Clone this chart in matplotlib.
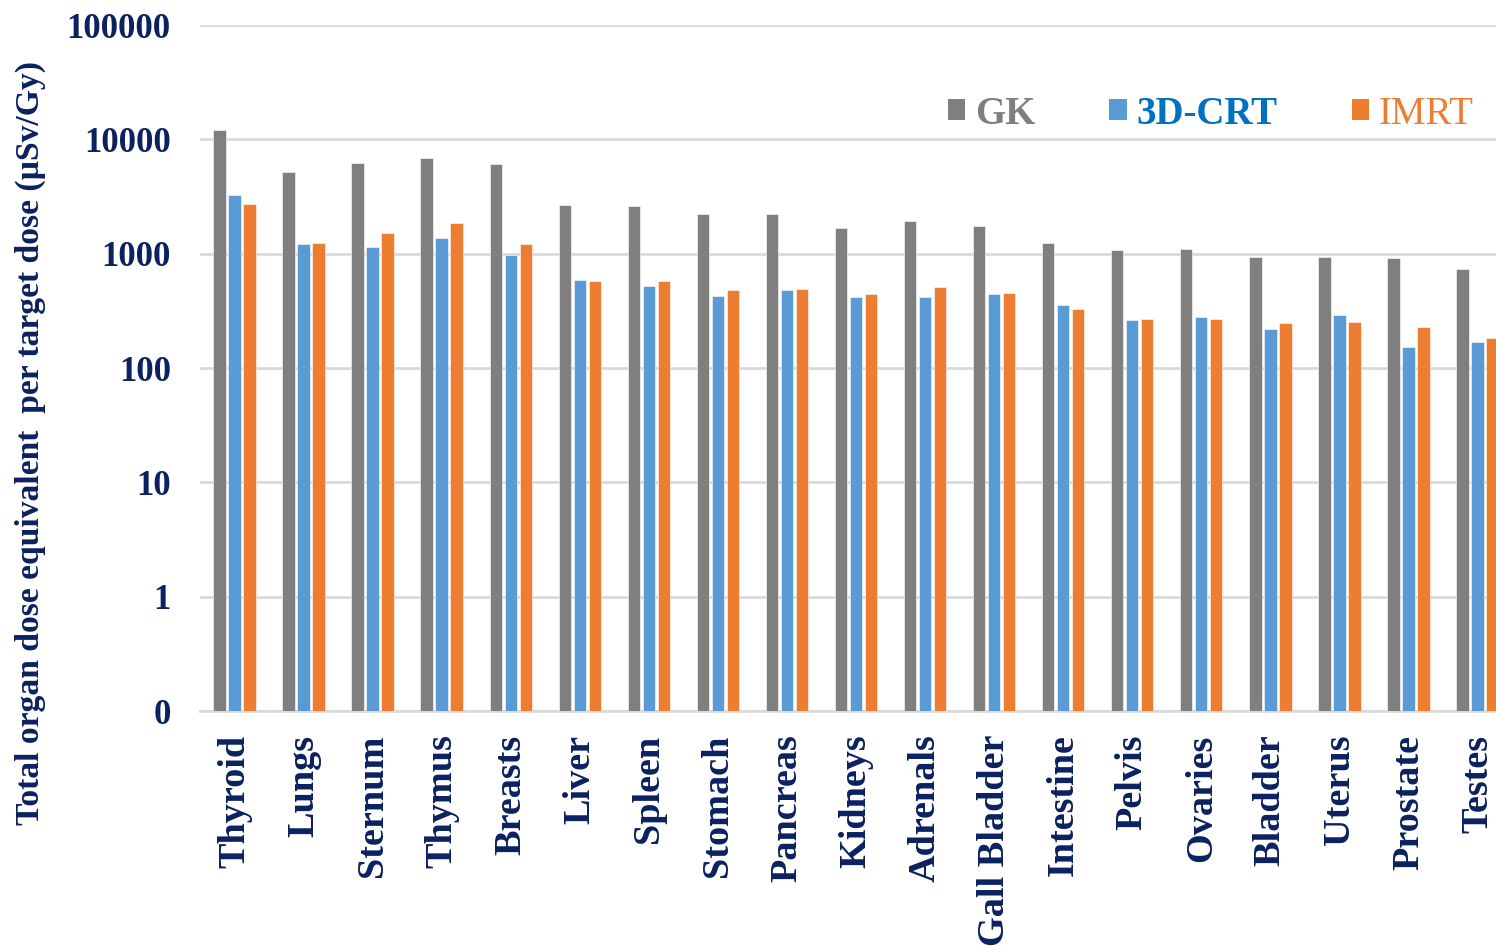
import numpy as np
import matplotlib
matplotlib.use("Agg")
import matplotlib.pyplot as plt
from matplotlib.patches import Patch
from matplotlib.ticker import FixedLocator, NullLocator

organs = ["Thyroid", "Lungs", "Sternum", "Thymus", "Breasts", "Liver", "Spleen",
          "Stomach", "Pancreas", "Kidneys", "Adrenals", "Gall Bladder", "Intestine",
          "Pelvis", "Ovaries", "Bladder", "Uterus", "Prostate", "Testes"]
gk = [12000, 5230, 6170, 6840, 6070, 2690, 2600, 2244, 2244, 1680, 1936, 1750,
      1236, 1087, 1109, 937, 937, 918, 736]
crt3d = [3250, 1210, 1153, 1365, 982, 586, 520, 430, 485, 419, 419, 448,
         356, 262, 280, 221, 290, 153, 169]
imrt = [2710, 1232, 1510, 1860, 1210, 574, 574, 485, 495, 448, 509, 454,
        329, 267, 267, 247, 251, 228, 183]
series_names = ["GK", "3D-CRT", "IMRT"]
ytick_vals = [0.1, 1, 10, 100, 1000, 10000, 100000]
ytick_labels = ["0", "1", "10", "100", "1000", "10000", "100000"]

colors = ["#7F7F7F", "#5B9BD5", "#ED7D31"]
text_colors = ["#7F7F7F", "#0070C0", "#ED7D31"]
navy = "#0B2160"
serif = ["Liberation Serif", "DejaVu Serif"]

W, H = 1496, 946
fig = plt.figure(figsize=(W / 100, H / 100), dpi=100)
left, right, top, bottom = 200, 1512, 25, 711
ax = fig.add_axes([left / W, (H - bottom) / H, (right - left) / W, (bottom - top) / H])

ax.set_yscale("log")
x = np.arange(len(organs))
bw = 0.18
step = 0.217
for i, (vals, c) in enumerate(zip([gk, crt3d, imrt], colors)):
    ax.bar(x + (i - 1) * step, vals, width=bw, color=c, edgecolor="white",
           linewidth=0.4, zorder=3, label=series_names[i])

ax.set_ylim(0.1, 100000)
ax.set_xlim(-0.5, len(organs) - 0.5)
ax.yaxis.set_major_locator(FixedLocator(ytick_vals))
ax.yaxis.set_minor_locator(NullLocator())
ax.set_yticklabels(ytick_labels)
ax.set_xticks(x)
ax.set_xticklabels(organs, rotation=90, va="top", ha="center")

for lab in ax.get_yticklabels():
    lab.set_fontfamily(serif)
    lab.set_fontweight("bold")
    lab.set_fontsize(25)
    lab.set_color(navy)
for lab in ax.get_xticklabels():
    lab.set_fontfamily(serif)
    lab.set_fontweight("bold")
    lab.set_fontsize(27.5)
    lab.set_color(navy)

ax.tick_params(axis="y", length=0, pad=21)
ax.tick_params(axis="x", length=0, pad=17)
ax.grid(axis="y", color="#D9D9D9", linewidth=2, zorder=0)
for s in ["left", "right", "top"]:
    ax.spines[s].set_visible(False)
ax.spines["bottom"].set_color("#D9D9D9")
ax.spines["bottom"].set_linewidth(2)

fig.text(30 / W, (H - 443) / H, "Total organ dose equivalent  per target dose (µSv/Gy)",
         rotation=90, ha="center", va="center", fontsize=24.2, fontweight="bold",
         color=navy, family=serif)

handles = [Patch(facecolor=c) for c in colors]
leg = fig.legend(handles, series_names, loc="center left",
                 bbox_to_anchor=(948 / W, (H - 114) / H), ncol=3, frameon=False,
                 prop={"family": serif, "size": 28}, handlelength=0.44, handleheight=0.44,
                 handletextpad=0.26, columnspacing=1.9, borderpad=0, borderaxespad=0)
weights = ["bold", "bold", "normal"]
for t, c, w in zip(leg.get_texts(), text_colors, weights):
    t.set_color(c)
    t.set_fontweight(w)

fig.savefig("out.png", dpi=100)
